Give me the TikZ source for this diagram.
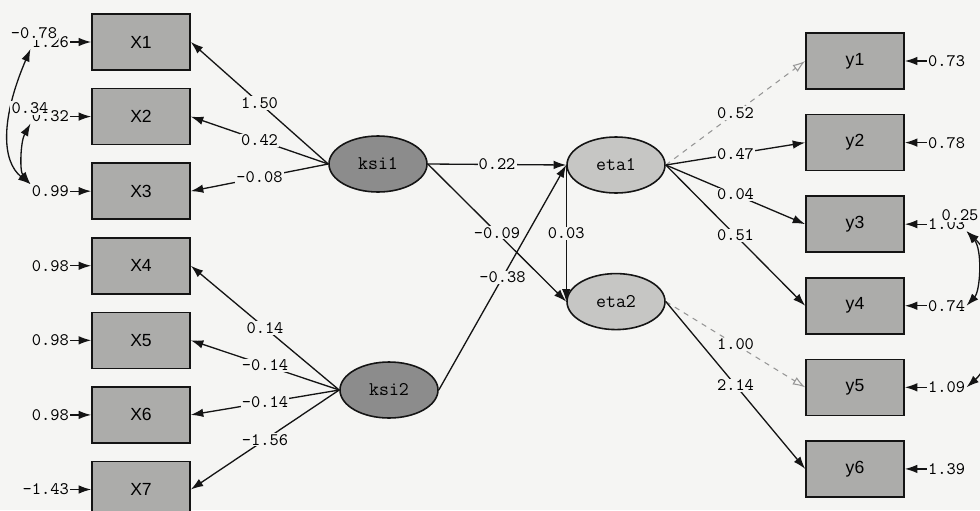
\documentclass[tikz,border=0pt]{standalone}
\usepackage{fontspec}
\setsansfont{Liberation Sans}
\usepackage{tikz}
\usetikzlibrary{arrows.meta,positioning,shapes.geometric}
\definecolor{lsedge}{RGB}{20,20,20}
\definecolor{lspaper}{RGB}{245,245,243}
\definecolor{lsobs}{RGB}{172,172,170}
\definecolor{lsksi}{RGB}{140,140,140}
\definecolor{lseta}{RGB}{198,198,196}
\definecolor{lsfix}{RGB}{150,150,150}
\tikzset{
  obs/.style={
    draw=lsedge, line width=0.9pt, fill=lsobs, inner sep=0pt,
    minimum width=19.6mm, minimum height=11.2mm,
    font=\fontsize{10}{12}\selectfont\sffamily
  },
  lat/.style={
    ellipse, draw=lsedge, line width=0.9pt, inner sep=0pt,
    minimum width=19.6mm, minimum height=11.2mm,
    font=\fontsize{11}{13}\selectfont\ttfamily
  },
  ksi/.style={lat, fill=lsksi},
  eta/.style={lat, fill=lseta},
  coef/.style={fill=lspaper, inner sep=0.6pt, font=\fontsize{10}{12}\selectfont\ttfamily},
  arr/.style={-{Latex[length=2.5mm,width=1.7mm]}, draw=lsedge, line width=0.75pt},
  fixarr/.style={-{Latex[open,length=2.5mm,width=1.7mm]}, draw=lsfix, dashed, line width=0.6pt},
  cov/.style={{Latex[length=2.5mm,width=1.7mm]}-{Latex[length=2.5mm,width=1.7mm]}, draw=lsedge, line width=0.75pt}
}

\begin{document}
\begin{tikzpicture}[x=0.2mm, y=-0.2mm, node distance=3.4mm and 4.2mm]
  \path[use as bounding box, fill=lspaper] (0,0) rectangle (980,510);

  \node[obs] (x1) at (141,42) {X1};
  \node[obs, below=of x1] (x2) {X2};
  \node[obs, below=of x2] (x3) {X3};
  \node[obs, below=of x3] (x4) {X4};
  \node[obs, below=of x4] (x5) {X5};
  \node[obs, below=of x5] (x6) {X6};
  \node[obs, below=of x6] (x7) {X7};

  \node[obs] (y1) at (855,61) {y1};
  \node[obs, below=4.8mm of y1] (y2) {y2};
  \node[obs, below=4.8mm of y2] (y3) {y3};
  \node[obs, below=4.8mm of y3] (y4) {y4};
  \node[obs, below=4.8mm of y4] (y5) {y5};
  \node[obs, below=4.8mm of y5] (y6) {y6};

  \node[ksi] (ksi1) at (378,164) {ksi1};
  \node[ksi] (ksi2) at (389,390) {ksi2};
  \node[eta] (eta1) at (616,165) {eta1};
  \node[eta, below=15.8mm of eta1] (eta2) {eta2};

  \node[coef, left=of x1] (e1) {1.26};
  \node[coef, left=of x2] (e2) {0.32};
  \node[coef, left=of x3] (e3) {0.99};
  \node[coef, left=of x4] (e4) {0.98};
  \node[coef, left=of x5] (e5) {0.98};
  \node[coef, left=of x6] (e6) {0.98};
  \node[coef, left=of x7] (e7) {-1.43};
  \foreach \i in {1,...,7} \draw[arr] (e\i) -- (x\i);

  \node[coef, right=4.4mm of y1] (d1) {0.73};
  \node[coef, right=4.4mm of y2] (d2) {0.78};
  \node[coef, right=4.4mm of y3] (d3) {1.03};
  \node[coef, right=4.4mm of y4] (d4) {0.74};
  \node[coef, right=4.4mm of y5] (d5) {1.09};
  \node[coef, right=4.4mm of y6] (d6) {1.39};
  \foreach \i in {1,...,6} \draw[arr] (d\i) -- (y\i);

  \draw[arr] (ksi1.west) -- node[coef] {1.50} (x1.east);
  \draw[arr] (ksi1.west) -- node[coef] {0.42} (x2.east);
  \draw[arr] (ksi1.west) -- node[coef] {-0.08} (x3.east);
  \draw[arr] (ksi2.west) -- node[coef] {0.14} (x4.east);
  \draw[arr] (ksi2.west) -- node[coef] {-0.14} (x5.east);
  \draw[arr] (ksi2.west) -- node[coef] {-0.14} (x6.east);
  \draw[arr] (ksi2.west) -- node[coef] {-1.56} (x7.east);

  \draw[arr] (ksi1.east) -- node[coef] {0.22} (eta1.west);
  \draw[arr] (ksi1.east) -- node[coef] {-0.09} (eta2.west);
  \draw[arr] (ksi2.east) -- node[coef] {-0.38} (eta1.west);
  \draw[arr] (eta1.west) -- node[coef] {0.03} (eta2.west);

  \draw[fixarr] (eta1.east) -- node[coef] {0.52} (y1.west);
  \draw[arr] (eta1.east) -- node[coef] {0.47} (y2.west);
  \draw[arr] (eta1.east) -- node[coef] {0.04} (y3.west);
  \draw[arr] (eta1.east) -- node[coef] {0.51} (y4.west);
  \draw[fixarr] (eta2.east) -- node[coef] {1.00} (y5.west);
  \draw[arr] (eta2.east) -- node[coef] {2.14} (y6.west);

  \draw[cov] (e1.south west) .. controls +(-30,70) and +(-29,-23) .. (e3.north west);
  \draw[cov] (e2.south west) .. controls +(-10,18) and +(-11,-13) .. (e3.north west);
  \draw[cov] (d3.south east) .. controls +(16,18) and +(14,-15) .. (d4.east);
  \draw[cov] (d3.south east) .. controls +(36,33) and +(35,-31) .. (d5.east);
  \node[coef] (c13) at (34,33) {-0.78};
  \node[coef] (c23) at (30,108) {0.34};
  \node[coef] (c35) at (960,215) {0.25};
\end{tikzpicture}
\end{document}
